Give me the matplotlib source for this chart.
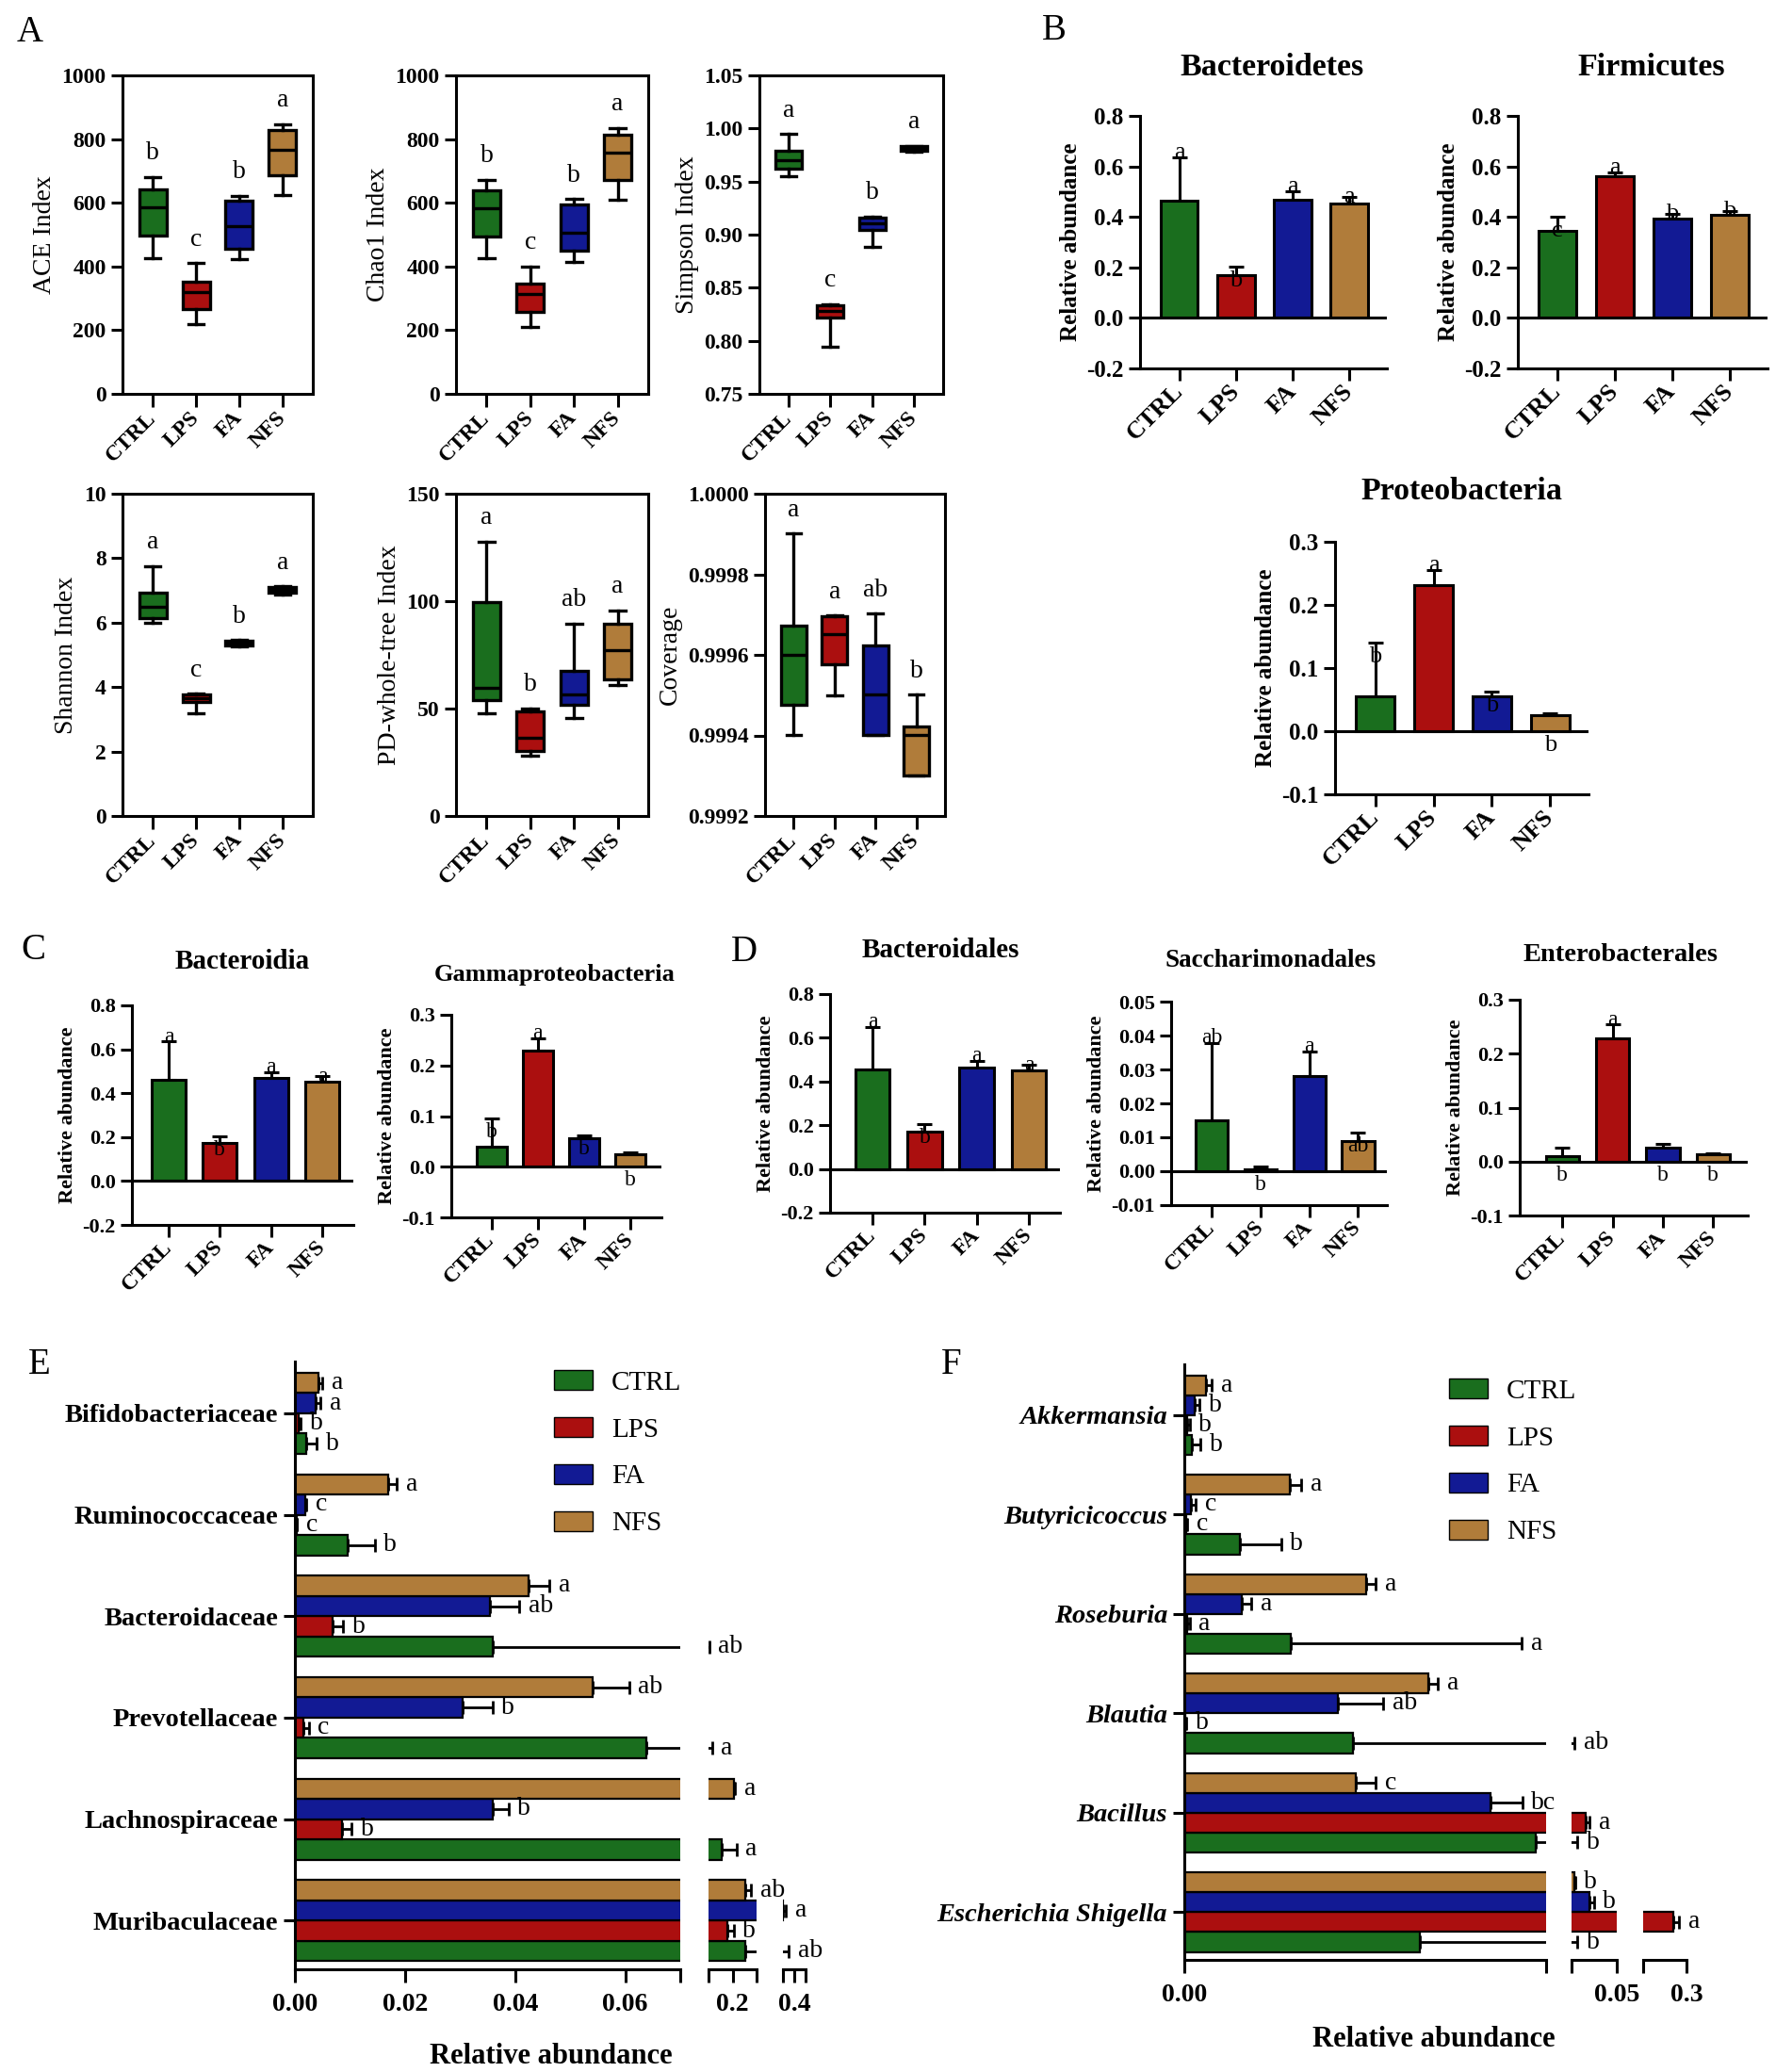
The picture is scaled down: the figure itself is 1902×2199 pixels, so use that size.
import numpy as np
import matplotlib.pyplot as plt
from matplotlib.patches import Patch

plt.rcParams['font.family'] = ['Liberation Serif', 'DejaVu Serif']
plt.rcParams['axes.linewidth'] = 2.2
plt.rcParams['xtick.major.width'] = 2.2
plt.rcParams['ytick.major.width'] = 2.2
plt.rcParams['xtick.major.size'] = 9
plt.rcParams['ytick.major.size'] = 9

groups = ['CTRL', 'LPS', 'FA', 'NFS']
colors = ['#1a6e1e', '#ab0f0f', '#121a94', '#b07c3a']

# ---- panel A: box stats per group [whislo, q1, median, q3, whishi]
ace = [[425, 498, 586, 643, 681], [218, 265, 321, 352, 410],
       [422, 457, 526, 606, 622], [624, 686, 766, 828, 847]]
ace_letters = ['b', 'c', 'b', 'a']
chao1 = [[425, 494, 582, 638, 673], [211, 258, 314, 346, 400],
         [413, 450, 506, 596, 612], [609, 671, 758, 815, 835]]
chao1_letters = ['b', 'c', 'b', 'a']
simpson = [[0.9548, 0.9622, 0.9704, 0.979, 0.9946], [0.7942, 0.8222, 0.828, 0.8334, 0.8346],
           [0.8885, 0.9047, 0.9106, 0.9156, 0.917], [0.9784, 0.979, 0.9813, 0.9834, 0.9837]]
simpson_letters = ['a', 'c', 'b', 'a']
shannon = [[6.0, 6.15, 6.49, 6.92, 7.76], [3.19, 3.54, 3.66, 3.76, 3.8],
           [5.26, 5.29, 5.36, 5.44, 5.46], [6.88, 6.92, 7.02, 7.1, 7.12]]
shannon_letters = ['a', 'c', 'b', 'a']
pd_tree = [[47.9, 54.0, 59.6, 99.5, 127.7], [28.1, 30.3, 36.2, 48.6, 50.1],
           [45.7, 51.6, 56.4, 67.7, 89.6], [61.1, 63.6, 77.2, 89.6, 95.8]]
pd_letters = ['a', 'b', 'ab', 'a']
coverage = [[0.999401, 0.999475, 0.9996, 0.999673, 0.999901],
            [0.9995, 0.999577, 0.999651, 0.999696, 0.999698],
            [0.999402, 0.999402, 0.999501, 0.999623, 0.999702],
            [0.999301, 0.999301, 0.999401, 0.999423, 0.999501]]
coverage_letters = ['a', 'a', 'ab', 'b']

# ---- panels B, C, D: mean and upper error per group
bacteroidetes = [0.463, 0.171, 0.467, 0.452]
bacteroidetes_err = [0.173, 0.033, 0.033, 0.027]
bacteroidetes_letters = ['a', 'b', 'a', 'a']
firmicutes = [0.344, 0.562, 0.393, 0.407]
firmicutes_err = [0.056, 0.013, 0.018, 0.015]
firmicutes_letters = ['c', 'a', 'b', 'b']
proteobacteria = [0.055, 0.231, 0.055, 0.025]
proteobacteria_err = [0.086, 0.024, 0.008, 0.004]
proteobacteria_letters = ['b', 'a', 'b', 'b']

bacteroidia = [0.463, 0.175, 0.468, 0.451]
bacteroidia_err = [0.174, 0.028, 0.028, 0.027]
bacteroidia_letters = ['a', 'b', 'a', 'a']
gamma = [0.039, 0.230, 0.056, 0.025]
gamma_err = [0.056, 0.024, 0.0065, 0.004]
gamma_letters = ['b', 'a', 'b', 'b']

bacteroidales = [0.456, 0.172, 0.463, 0.449]
bacteroidales_err = [0.194, 0.032, 0.032, 0.027]
bacteroidales_letters = ['a', 'b', 'a', 'a']
sacchari = [0.0149, 0.00055, 0.028, 0.009]
sacchari_err = [0.023, 0.00095, 0.0073, 0.0024]
sacchari_letters = ['ab', 'b', 'a', 'ab']
entero = [0.0098, 0.229, 0.026, 0.0127]
entero_err = [0.0162, 0.025, 0.006, 0.0029]
entero_letters = ['b', 'a', 'b', 'b']

# ---- panel E: families (rows = CTRL, LPS, FA, NFS)
fam_names = ['Bifidobacteriaceae', 'Ruminococcaceae', 'Bacteroidaceae',
             'Prevotellaceae', 'Lachnospiraceae', 'Muribaculaceae']
fam_mean = [[0.0020, 0.0095, 0.0360, 0.0639, 0.178, 0.226],
            [0.0007, 0.0003, 0.0069, 0.0015, 0.0085, 0.190],
            [0.0037, 0.0018, 0.0354, 0.0304, 0.0360, 0.352],
            [0.0042, 0.0169, 0.0425, 0.0540, 0.202, 0.226]]
fam_err = [[0.0019, 0.0050, 0.115, 0.093, 0.030, 0.150],
           [0.0003, 0.0001, 0.0018, 0.0010, 0.0018, 0.012],
           [0.0010, 0.0003, 0.0053, 0.0055, 0.0028, 0.010],
           [0.0008, 0.0016, 0.0037, 0.0067, 0.003, 0.012]]
fam_letters = [['b', 'b', 'ab', 'a', 'a', 'ab'],
               ['b', 'c', 'b', 'c', 'b', 'b'],
               ['a', 'c', 'ab', 'b', 'b', 'a'],
               ['a', 'a', 'a', 'ab', 'a', 'ab']]

# ---- panel F: genera
gen_names = ['Akkermansia', 'Butyricicoccus', 'Roseburia', 'Blautia',
             'Bacillus', 'Escherichia Shigella']
gen_mean = [[0.00016, 0.00123, 0.00236, 0.00372, 0.00777, 0.0052],
            [0.00006, 0.00004, 0.00006, 0.00003, 0.0227, 0.24],
            [0.00023, 0.00014, 0.00128, 0.0034, 0.00677, 0.026],
            [0.00048, 0.00234, 0.00403, 0.0054, 0.00379, 0.0125]]
gen_err = [[0.0002, 0.00091, 0.0051, 0.0088, 0.0072, 0.0098],
           [0.00006, 0.00002, 0.00006, 0.00002, 0.0033, 0.026],
           [0.0001, 0.00011, 0.0002, 0.001, 0.0007, 0.0037],
           [0.00013, 0.00024, 0.0002, 0.0002, 0.00044, 0.0005]]
gen_letters = [['b', 'b', 'a', 'ab', 'b', 'b'],
               ['b', 'c', 'a', 'b', 'a', 'a'],
               ['b', 'c', 'a', 'ab', 'bc', 'b'],
               ['a', 'a', 'a', 'a', 'c', 'b']]

W, H = 1902, 2199
fig = plt.figure(figsize=(W / 100, H / 100), dpi=100)


def px_axes(l, t, r, b):
    return fig.add_axes([l / W, 1 - b / H, (r - l) / W, (b - t) / H])


def box_panel(rect, stats, letters, ylim, yticks, ylabel, fmt):
    ax = px_axes(*rect)
    st = [dict(whislo=s[0], q1=s[1], med=s[2], q3=s[3], whishi=s[4]) for s in stats]
    bp = ax.bxp(st, positions=range(4), widths=0.63, showfliers=False, patch_artist=True,
                capwidths=0.36,
                boxprops=dict(linewidth=2.4, edgecolor='black'),
                medianprops=dict(color='black', linewidth=2.4),
                whiskerprops=dict(linewidth=2.4), capprops=dict(linewidth=2.4))
    for patch, c in zip(bp['boxes'], colors):
        patch.set_facecolor(c)
    for i, s in enumerate(stats):
        ax.annotate(letters[i], (i, s[4]), xytext=(0, 9), textcoords='offset points',
                    ha='center', va='bottom', fontsize=20)
    ax.set_xlim(-0.7, 3.7)
    ax.set_ylim(*ylim)
    ax.set_yticks(yticks)
    ax.set_yticklabels([fmt.format(v) for v in yticks], fontsize=17, fontweight='bold')
    ax.set_xticks(range(4))
    ax.set_xticklabels(groups, rotation=45, ha='right', va='center', rotation_mode='anchor',
                       fontsize=17, fontweight='bold')
    ax.tick_params(axis='x', length=10, pad=6)
    ax.set_ylabel(ylabel, fontsize=20)
    return ax


def bar_panel(rect, means, errs, letters, modes, ylim, yticks, fmt, xlim,
              tick_fs, lab_fs, let_fs):
    ax = px_axes(*rect)
    x = np.arange(4)
    ax.bar(x, means, width=0.66, color=colors, edgecolor='black', linewidth=2.2, zorder=2)
    ax.errorbar(x, means, yerr=[np.zeros(4), errs], fmt='none', ecolor='black',
                elinewidth=2.2, capsize=6, capthick=2.2, zorder=3)
    ax.axhline(0, color='black', linewidth=2.2, zorder=4)
    for i in range(4):
        top = means[i] + errs[i]
        m = modes[i]
        if m == 't':
            xy, off, va = (i, top), (0, -4), 'bottom'
        elif m == 'c':
            xy, off, va = (i, top), (0, 0), 'center'
        elif m == 'i':
            xy, off, va = (i, top), (0, -3), 'top'
        else:
            xy, off, va = (i, 0), (0, -3), 'top'
        ax.annotate(letters[i], xy, xytext=off, textcoords='offset points',
                    ha='center', va=va, fontsize=let_fs, zorder=5)
    ax.spines['top'].set_visible(False)
    ax.spines['right'].set_visible(False)
    ax.set_xlim(*xlim)
    ax.set_ylim(*ylim)
    ax.set_yticks(yticks)
    ax.set_yticklabels([fmt.format(v) for v in yticks], fontsize=tick_fs, fontweight='bold')
    ax.set_xticks(x)
    ax.set_xticklabels(groups, rotation=45, ha='right', va='center', rotation_mode='anchor',
                       fontsize=tick_fs + 1, fontweight='bold')
    ax.tick_params(axis='x', length=9, pad=6)
    ax.set_ylabel('Relative abundance', fontsize=lab_fs, fontweight='bold')
    return ax


def broken_panel(segs, top, bottom, lims, ticks, ticklabels, names, means, errs,
                 letters, italic, legend_xy, xlabel_xy):
    n = len(names)
    ypos = np.arange(n)[::-1]
    axs = []
    for (l, r), lim, tk, tl in zip(segs, lims, ticks, ticklabels):
        ax = px_axes(l, top, r, bottom)
        ax.patch.set_visible(False)
        ax.set_xlim(*lim)
        ax.set_ylim(-0.48, n - 0.49)
        for sp in ['top', 'right', 'left']:
            ax.spines[sp].set_visible(False)
        ax.set_xticks(tk)
        ax.set_xticklabels(tl, fontsize=20, fontweight='bold')
        ax.tick_params(axis='x', length=10, pad=8)
        ax.set_yticks([])
        axs.append(ax)
    axs[0].spines['left'].set_visible(True)
    axs[0].set_yticks(ypos)
    axs[0].set_yticklabels(names, fontsize=20.5, fontweight='bold',
                           fontstyle='italic' if italic else 'normal')
    axs[0].tick_params(axis='y', length=9, pad=4)
    offsets = [-0.3, -0.1, 0.1, 0.3]
    for g in range(4):
        y = ypos + offsets[g]
        for ax in axs:
            ax.barh(y, means[g], height=0.2, color=colors[g], edgecolor='black', linewidth=1.6)
            ax.errorbar(means[g], y, xerr=[np.zeros(n), errs[g]], fmt='none', ecolor='black',
                        elinewidth=2, capsize=5, capthick=2)
        for j in range(n):
            end = means[g][j] + errs[g][j]
            k = 0
            while k < len(lims) - 1 and end > lims[k][1]:
                k += 1
            axs[k].annotate(letters[g][j], (end, y[j]), xytext=(7, 0), textcoords='offset points',
                            ha='left', va='center', fontsize=20)
    handles = [Patch(facecolor=c, edgecolor='black', label=g) for c, g in zip(colors, groups)]
    fig.legend(handles=handles, loc='upper left',
               bbox_to_anchor=(legend_xy[0] / W, 1 - legend_xy[1] / H),
               frameon=False, fontsize=21,
               handlelength=1.4, handleheight=0.72, labelspacing=0.8,
               handletextpad=0.7, borderpad=0, borderaxespad=0)
    fig.text(xlabel_xy[0] / W, 1 - xlabel_xy[1] / H, 'Relative abundance',
             ha='center', va='center', fontsize=22, fontweight='bold')
    return axs


# ---- panel A
box_panel((130, 80, 332, 418), ace, ace_letters, (0, 1000), range(0, 1001, 200), 'ACE Index', '{:.0f}')
box_panel((484, 80, 688, 418), chao1, chao1_letters, (0, 1000), range(0, 1001, 200), 'Chao1 Index', '{:.0f}')
box_panel((806, 80, 1001, 418), simpson, simpson_letters, (0.75, 1.05),
          np.arange(0.75, 1.051, 0.05), 'Simpson Index', '{:.2f}')
box_panel((130, 524, 332, 866), shannon, shannon_letters, (0, 10), range(0, 11, 2), 'Shannon Index', '{:.0f}')
box_panel((484, 524, 688, 866), pd_tree, pd_letters, (0, 150), range(0, 151, 50),
          'PD-whole-tree Index', '{:.0f}')
box_panel((812, 524, 1003, 866), coverage, coverage_letters, (0.9992, 1.0),
          np.arange(0.9992, 1.00001, 0.0002), 'Coverage', '{:.4f}')

# ---- panel B
bar_panel((1210, 123, 1472, 391), bacteroidetes, bacteroidetes_err, bacteroidetes_letters,
          'titc', (-0.2, 0.8), np.arange(-0.2, 0.81, 0.2), '{:.1f}', (-0.69, 3.66), 18, 18, 19)
bar_panel((1611, 123, 1876, 391), firmicutes, firmicutes_err, firmicutes_letters,
          'itcc', (-0.2, 0.8), np.arange(-0.2, 0.81, 0.2), '{:.1f}', (-0.69, 3.66), 18, 18, 19)
bar_panel((1417, 575, 1686, 843), proteobacteria, proteobacteria_err, proteobacteria_letters,
          'itib', (-0.1, 0.3), np.arange(-0.1, 0.31, 0.1), '{:.1f}', (-0.69, 3.66), 18, 18, 19)

# ---- panel C
bar_panel((140, 1067, 375, 1300), bacteroidia, bacteroidia_err, bacteroidia_letters,
          'titc', (-0.2, 0.8), np.arange(-0.2, 0.81, 0.2), '{:.1f}', (-0.72, 3.61), 16, 16, 17)
bar_panel((479, 1077, 702, 1292), gamma, gamma_err, gamma_letters,
          'itib', (-0.1, 0.3), np.arange(-0.1, 0.31, 0.1), '{:.1f}', (-0.87, 3.67), 16, 16, 17)

# ---- panel D
bar_panel((881, 1055, 1125, 1287), bacteroidales, bacteroidales_err, bacteroidales_letters,
          'titc', (-0.2, 0.8), np.arange(-0.2, 0.81, 0.2), '{:.1f}', (-0.82, 3.6), 16, 16, 17)
bar_panel((1243, 1063, 1472, 1279), sacchari, sacchari_err, sacchari_letters,
          'tbti', (-0.01, 0.05), np.arange(-0.01, 0.051, 0.01), '{:.2f}', (-0.83, 3.59), 16, 16, 17)
bar_panel((1613, 1061, 1855, 1290), entero, entero_err, entero_letters,
          'btbb', (-0.1, 0.3), np.arange(-0.1, 0.31, 0.1), '{:.1f}', (-0.85, 3.69), 16, 16, 17)

# ---- panel E
broken_panel([(313, 722), (752, 803), (831, 855)], 1445, 2090,
             [(0, 0.07), (0.15, 0.25), (0.35, 0.45)],
             [[0, 0.02, 0.04, 0.06, 0.07], [0.15, 0.2, 0.25], [0.35, 0.4, 0.45]],
             [['0.00', '0.02', '0.04', '0.06', ''], ['', '0.2', ''], ['', '0.4', '']],
             fam_names, fam_mean, fam_err, fam_letters, False, (588, 1454), (585, 2183))

# ---- panel F
broken_panel([(1257, 1641), (1668, 1716), (1744, 1790)], 1448, 2080,
             [(0, 0.008), (0.01, 0.05), (0.1, 0.3)],
             [[0, 0.008], [0.01, 0.05], [0.1, 0.3]],
             [['0.00', ''], ['', '0.05'], ['', '0.3']],
             gen_names, gen_mean, gen_err, gen_letters, True, (1538, 1463), (1522, 2165))

# ---- titles and panel letters
titles = [('Bacteroidetes', 1350, 72, 24.5), ('Firmicutes', 1753, 72, 24.5),
          ('Proteobacteria', 1551, 522, 24.5), ('Bacteroidia', 257, 1021, 21),
          ('Gammaproteobacteria', 589, 1035, 19), ('Bacteroidales', 998, 1008, 21),
          ('Saccharimonadales', 1349, 1020, 19.5), ('Enterobacterales', 1720, 1014, 20.5)]
for t, x, y, fs in titles:
    fig.text(x / W, 1 - y / H, t, ha='center', va='center', fontsize=fs, fontweight='bold')

for lab, x, y in [('A', 32, 35), ('B', 1119, 33), ('C', 35, 1008), ('D', 790, 1010),
                  ('E', 42, 1448), ('F', 1010, 1448)]:
    fig.text(x / W, 1 - y / H, lab, ha='center', va='center', fontsize=28)

fig.savefig('out.png', dpi=100)
